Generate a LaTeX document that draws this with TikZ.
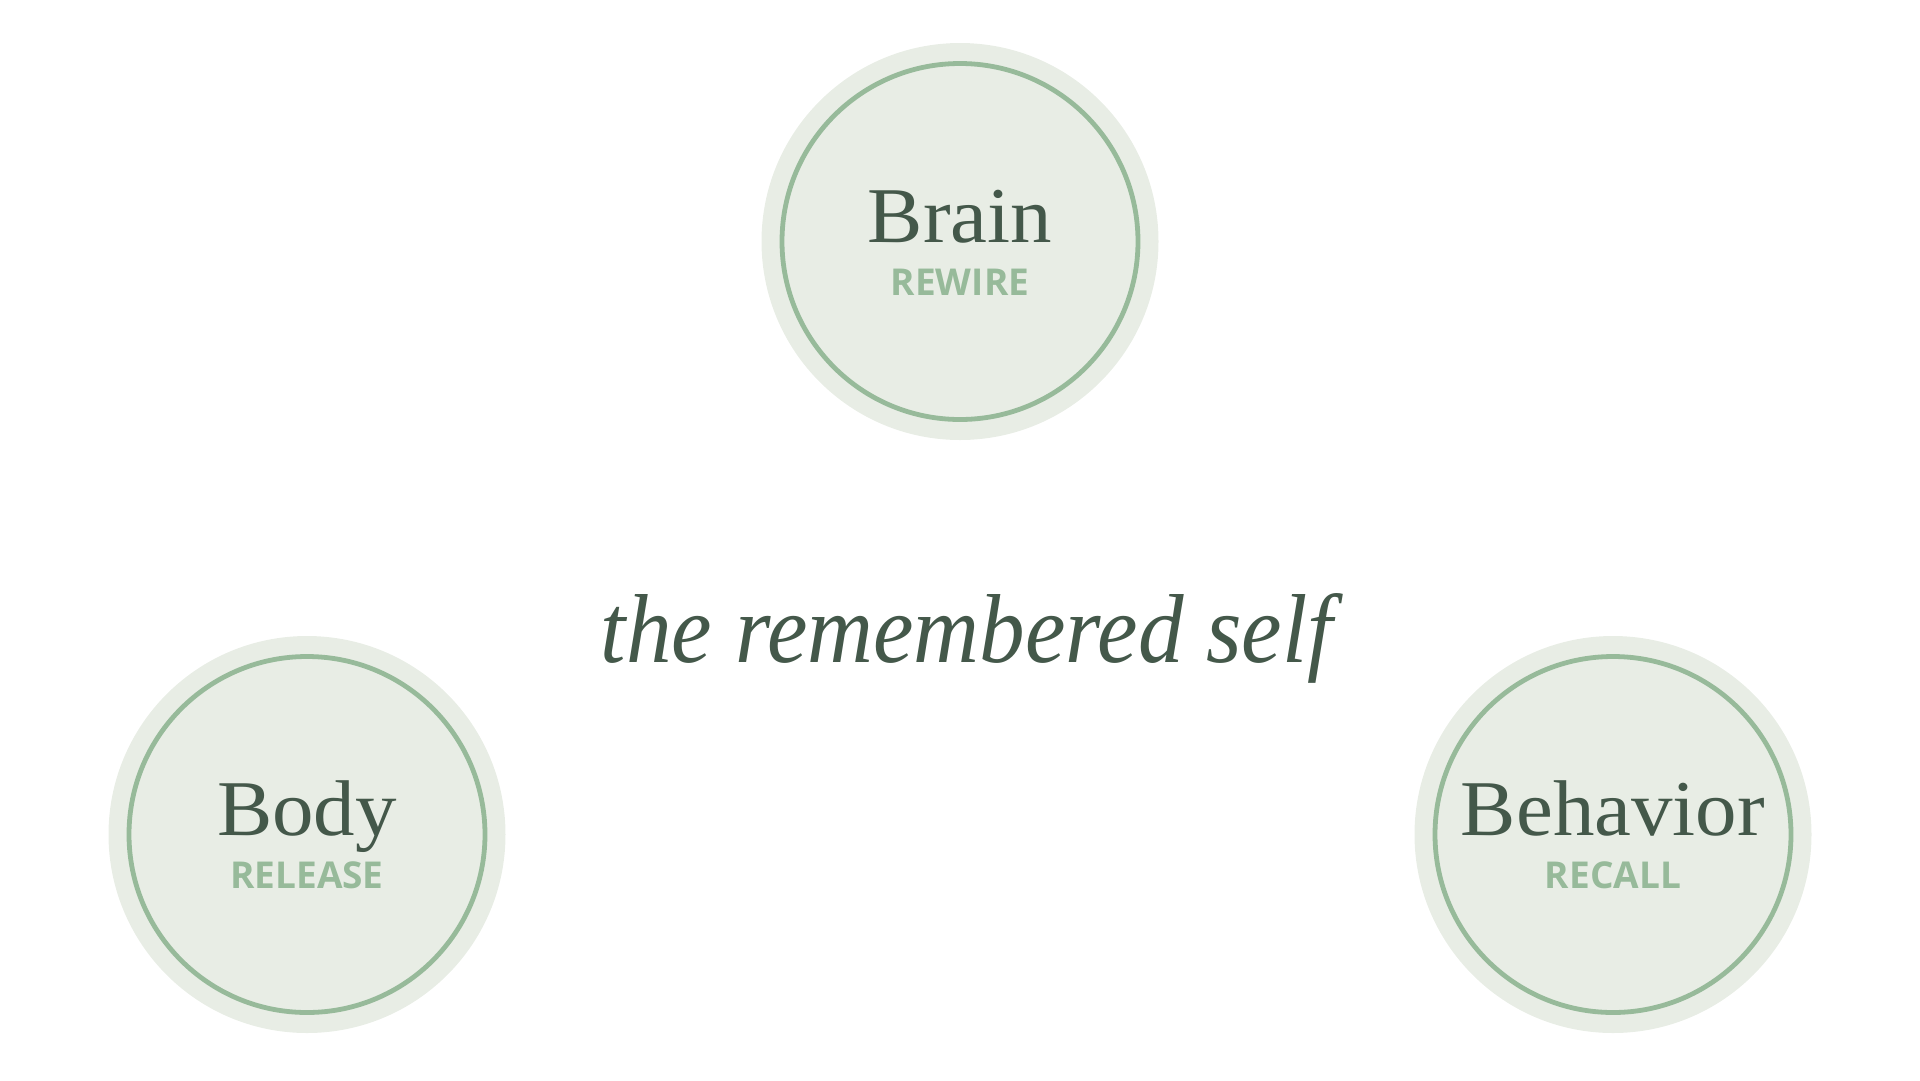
\documentclass[tikz,border=0pt]{standalone}
\usepackage{fontspec}
\setmainfont{Liberation Serif}
\newfontfamily\namefont{Liberation Serif}[FakeStretch=1.05]
\newfontfamily\selffont{Liberation Serif}[FakeStretch=0.93]
\newfontfamily\subfont{Open Sans}
\usepackage{tikz}
\usetikzlibrary{positioning}
\definecolor{hoja}{HTML}{E8EDE5}
\definecolor{anillo}{HTML}{97BA9A}
\definecolor{tinta}{HTML}{44584A}

\begin{document}
\begin{tikzpicture}[x=1pt,y=-1pt,
  fondo/.style={circle,fill=hoja,minimum size=397pt,inner sep=0pt},
  aro/.style={circle,draw=anillo,line width=4.8pt,minimum size=356pt,inner sep=0pt},
  nombre/.style={anchor=base,text=tinta,inner sep=0pt,font=\namefont\fontsize{79}{90}\selectfont},
  verbo/.style={anchor=base,text=anillo,inner sep=0pt,font=\subfont\bfseries\fontsize{37}{40}\selectfont}]
  \useasboundingbox (0,0) rectangle (1920,1080);

  % Círculo superior
  \node[fondo] (brain) at (960,241.5) {};
  \node[aro] (brainaro) at (brain.center) {};
  \node[nombre] (braintxt) at ([yshift=-1pt]brain.center) {Brain};
  \node[verbo] (brainsub) at ([yshift=-54pt]brain.center) {REWIRE};

  % Círculo inferior izquierdo
  \node[fondo] (body) at (307,834.5) {};
  \node[aro] (bodyaro) at (body.center) {};
  \node[nombre] (bodytxt) at ([yshift=-1pt]body.center) {Body};
  \node[verbo] (bodysub) at ([yshift=-54pt]body.center) {RELEASE};

  % Círculo inferior derecho
  \node[fondo] (behavior) at (1613,834.5) {};
  \node[aro] (behavioraro) at (behavior.center) {};
  \node[nombre] (behaviortxt) at ([yshift=-1pt]behavior.center) {Behavior};
  \node[verbo] (behaviorsub) at ([yshift=-54pt]behavior.center) {RECALL};

  % Texto central
  \node[anchor=base,text=tinta,inner sep=0pt,font=\selffont\itshape\fontsize{98}{110}\selectfont] (self) at (967,662) {the remembered self};
\end{tikzpicture}
\end{document}
